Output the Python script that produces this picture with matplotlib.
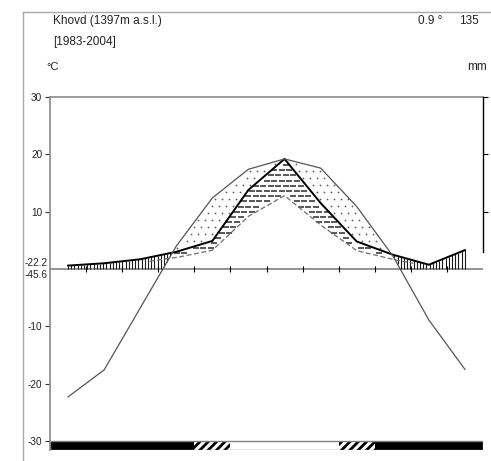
import numpy as np
import matplotlib
matplotlib.use('Agg')
import matplotlib.pyplot as plt
from matplotlib.lines import Line2D
from matplotlib.patches import Rectangle

plt.rcParams['font.family'] = ['Liberation Sans', 'DejaVu Sans']
plt.rcParams['hatch.linewidth'] = 2.0

# ---------------- data ----------------
station = "Khovd (1397m a.s.l.)"
period = "[1983-2004]"
mean_temp_label = "0.9 °"
annual_precip_label = "135"
months = ['Jan', 'Feb', 'Mar', 'Apr', 'May', 'Jun',
          'Jul', 'Aug', 'Sep', 'Oct', 'Nov', 'Dec']
temp = [-22.3, -17.6, -6.8, 4.0, 12.4, 17.4, 19.2, 17.6, 10.9, 2.3, -8.9, -17.5]
precip = [1.2, 2.0, 3.4, 6.0, 9.8, 27.6, 38.4, 23.0, 9.6, 5.0, 1.5, 6.6]
frost = ['sure', 'sure', 'sure', 'sure', 'probable', 'none',
         'none', 'none', 'probable', 'sure', 'sure', 'sure']
min_labels = ["-22.2", "-45.6"]
left_ticks = [30, 20, 10, -10, -20, -30]
right_ticks = [30, 20, 10]
right_labels = ["60", "40", "20"]

# ---------------- figure ----------------
W, H = 491, 461
fig = plt.figure(figsize=(W / 100, H / 100), dpi=100)
ymin, ymax = -31.6, 30
y_top_px, y_bot_px = 97, 450.2
ax = fig.add_axes([50 / W, (H - y_bot_px) / H, 433 / W, (y_bot_px - y_top_px) / H])
ax.set_xlim(0, 12)
ax.set_ylim(ymin, ymax)

px_x = 433 / 12.0
px_y = (y_bot_px - y_top_px) / (ymax - ymin)

xm = np.arange(len(months)) + 0.5
T = np.array(temp)
P2 = np.array(precip) / 2.0
P3 = np.array(precip) / 3.0

# humid period: vertical hatching
xv = np.arange(xm[0], xm[-1] + 1e-9, 3.2 / px_x)
Tv = np.interp(xv, xm, T)
P2v = np.interp(xv, xm, P2)
low = np.maximum(Tv, 0)
mk = P2v > low
ax.vlines(xv[mk], low[mk], P2v[mk], color='#1a1a1a', lw=0.8, zorder=2)

# arid period: dots
sx, sy = 7 / px_x, 7 / px_y
dx, dy = [], []
for i, yy in enumerate(np.arange(0, 25, sy)):
    off = (sx / 2) * (i % 2)
    xs = np.arange(xm[0] + off, xm[-1], sx)
    Tx = np.interp(xs, xm, T)
    Px = np.interp(xs, xm, P2)
    m = (yy > Px + 0.3) & (yy < Tx - 0.3)
    dx.extend(xs[m]); dy.extend([yy] * int(m.sum()))
ax.plot(dx, dy, ls='none', marker='o', ms=1.3, mew=0, color='#606060', zorder=2)

# semi-arid period: short dashes
sx2, sy2 = 7.5 / px_x, 5.2 / px_y
ex, ey = [], []
for i, yy in enumerate(np.arange(0, 25, sy2)):
    off = (sx2 / 2) * (i % 2)
    xs = np.arange(xm[0] + off, xm[-1], sx2)
    Tx = np.interp(xs, xm, T)
    P2x = np.interp(xs, xm, P2)
    P3x = np.interp(xs, xm, P3)
    top = np.minimum(Tx, P2x)
    m = (yy > P3x + 0.3) & (yy < top - 0.3)
    ex.extend(xs[m]); ey.extend([yy] * int(m.sum()))
ax.plot(ex, ey, ls='none', marker='_', ms=3.8, mew=1.3, color='#4a4a4a', zorder=2)

# curves
xg = np.linspace(xm[0], xm[-1], 3000)
Tg = np.interp(xg, xm, T)
P3g = np.interp(xg, xm, P3)
ax.plot(xg, np.where(Tg > -4, P3g, np.nan), color='#707070', lw=0.9,
        ls=(0, (4, 2)), zorder=3)
ax.plot(xm, P2, color='black', lw=1.4, zorder=4)
ax.plot(xm, T, color='#555555', lw=0.9, zorder=5)

# zero line and month ticks
ax.axhline(0, color='#8a8a8a', lw=1.3, zorder=1)
ax.vlines(np.arange(1, len(months)), -0.5, 0.5, color='black', lw=0.8, zorder=3)

# frost bar
for i, f in enumerate(frost):
    if f == 'sure':
        ax.add_patch(Rectangle((i, ymin), 1, -30 - ymin, facecolor='black',
                               edgecolor='black', lw=0, zorder=3))
    elif f == 'probable':
        ax.add_patch(Rectangle((i, ymin), 1, -30 - ymin, facecolor='white',
                               edgecolor='black', hatch='////', lw=0, zorder=3))
ax.add_patch(Rectangle((0, ymin), len(months), -30 - ymin, facecolor='none',
                       edgecolor='#808080', lw=1.0, zorder=4))

# spines / ticks
for s in ['bottom', 'right']:
    ax.spines[s].set_visible(False)
ax.spines['left'].set_color('#8a8a8a')
ax.spines['left'].set_linewidth(1.2)
ax.spines['top'].set_color('#8a8a8a')
ax.spines['top'].set_linewidth(1.2)
ax.set_xticks([])
ax.set_yticks(left_ticks)
ax.set_yticklabels([str(t) for t in left_ticks])
ax.tick_params(axis='y', length=3.5, width=0.8, color='#333333', labelsize=7.2,
               pad=2, labelcolor='#222222')

ax2 = ax.twinx()
ax2.set_ylim(ymin, ymax)
for s in ['left', 'top', 'bottom']:
    ax2.spines[s].set_visible(False)
ax2.spines['right'].set_bounds(3, 30)
ax2.spines['right'].set_color('black')
ax2.spines['right'].set_linewidth(1.0)
ax2.set_yticks(right_ticks)
ax2.set_yticklabels(right_labels)
ax2.tick_params(axis='y', length=3.5, width=0.8, color='black', labelsize=7.2,
                pad=2, labelcolor='#E8A030')

# min temperature labels near zero line
ax.text(-0.08, 1.05, min_labels[0], ha='right', va='center', size=7.2,
        color='#222222', clip_on=False)
ax.text(-0.08, -1.05, min_labels[1], ha='right', va='center', size=7.2,
        color='#222222', clip_on=False)

# header texts
fig.text(53 / W, 1 - 21 / H, station, ha='left', va='center', size=8.5, color='#222222')
fig.text(53 / W, 1 - 42 / H, period, ha='left', va='center', size=8.5, color='#222222')
fig.text(46 / W, 1 - 67 / H, "°C", ha='left', va='center', size=8, color='#222222')
fig.text(487 / W, 1 - 67 / H, "mm", ha='right', va='center', size=8.5, color='#222222')
fig.text(418 / W, 1 - 21 / H, mean_temp_label, ha='left', va='center', size=8.5, color='#222222')
fig.text(459 / W, 1 - 21 / H, annual_precip_label, ha='left', va='center', size=8.5, color='#222222')

# outer frame
fig.add_artist(Line2D([23 / W, 1.0], [1 - 12 / H, 1 - 12 / H], color='#a8a8a8', lw=1.0))
fig.add_artist(Line2D([23 / W, 23 / W], [0, 1 - 12 / H], color='#a8a8a8', lw=1.0))

fig.savefig('out.png', dpi=100)
